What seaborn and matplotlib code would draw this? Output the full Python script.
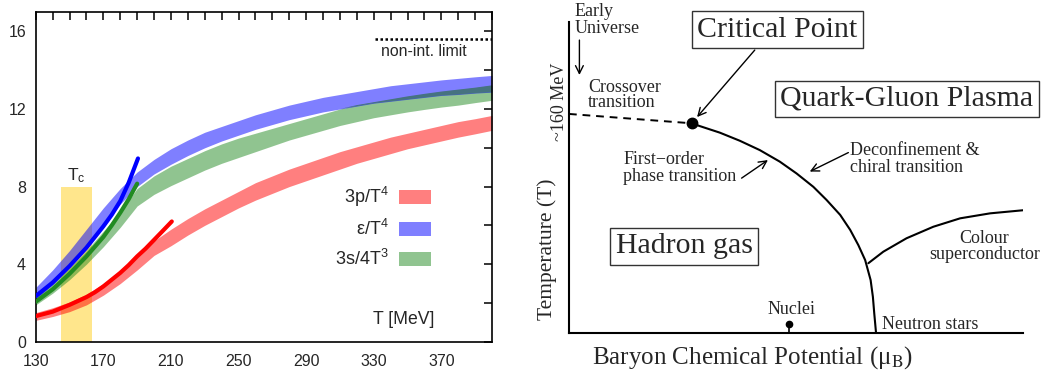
import numpy as np
import pandas as pd
import matplotlib
matplotlib.use("Agg")
import matplotlib.pyplot as plt
import seaborn as sns
from matplotlib.patches import Patch

# ---------------- data: left panel (lattice QCD EoS) ----------------
T_band = [130, 140, 150, 160, 170, 180, 190, 200, 210, 220, 230, 240, 250, 260,
          270, 280, 290, 300, 310, 320, 330, 340, 350, 360, 370, 380, 390, 400]
eps_lo = [2.2, 2.95, 3.85, 4.9, 6.0, 7.1, 8.0, 8.65, 9.15, 9.6, 10.0, 10.35, 10.65, 10.95,
          11.2, 11.45, 11.65, 11.85, 12.0, 12.15, 12.3, 12.4, 12.5, 12.6, 12.7, 12.75, 12.82, 12.87]
eps_hi = [2.8, 3.7, 4.7, 5.8, 6.9, 7.9, 8.75, 9.4, 9.95, 10.4, 10.8, 11.1, 11.4, 11.7,
          11.95, 12.2, 12.4, 12.6, 12.75, 12.9, 13.05, 13.2, 13.3, 13.4, 13.5, 13.58, 13.66, 13.73]
s_lo = [1.9, 2.5, 3.2, 4.0, 4.9, 5.9, 7.0, 7.6, 8.05, 8.45, 8.85, 9.2, 9.5, 9.8,
        10.1, 10.4, 10.65, 10.9, 11.15, 11.35, 11.55, 11.7, 11.85, 11.98, 12.1, 12.2, 12.33, 12.45]
s_hi = [2.3, 3.0, 3.8, 4.7, 5.7, 6.7, 7.9, 8.55, 9.05, 9.45, 9.85, 10.2, 10.5, 10.75,
        11.0, 11.25, 11.5, 11.75, 12.0, 12.2, 12.35, 12.5, 12.65, 12.78, 12.9, 13.0, 13.1, 13.22]
p_lo = [1.1, 1.3, 1.55, 1.9, 2.4, 3.0, 3.7, 4.45, 4.95, 5.5, 6.0, 6.45, 6.9, 7.3,
        7.65, 8.0, 8.3, 8.6, 8.9, 9.2, 9.45, 9.7, 9.95, 10.15, 10.35, 10.55, 10.72, 10.9]
p_hi = [1.5, 1.75, 2.05, 2.45, 3.0, 3.65, 4.4, 5.2, 5.8, 6.35, 6.85, 7.3, 7.75, 8.2,
        8.55, 8.9, 9.2, 9.5, 9.8, 10.05, 10.3, 10.55, 10.75, 10.95, 11.15, 11.35, 11.5, 11.67]

# hadron resonance gas curves
T_hrg_p = [130, 140, 150, 160, 165, 170, 175, 180, 185, 190, 195, 200, 205, 210.5]
hrg_p = [1.32, 1.55, 1.9, 2.3, 2.55, 2.85, 3.2, 3.55, 3.95, 4.4, 4.8, 5.25, 5.7, 6.2]
T_hrg_e = [130, 140, 150, 160, 170, 175, 180, 185, 190.5]
hrg_e = [2.35, 3.05, 3.9, 4.85, 5.95, 6.55, 7.25, 8.2, 9.45]
T_hrg_s = [130, 140, 150, 160, 170, 175, 180, 185, 190]
hrg_s = [2.06, 2.7, 3.5, 4.4, 5.4, 6.0, 6.65, 7.35, 8.15]

tc_range = [145, 163]
tc_height = 8
sb_limit = 15.62
sb_range = [331, 400]

legend_labels = ["3p/T$^{4}$", "ε/T$^{4}$", "3s/4T$^{3}$"]
x_labels = [130, 170, 210, 250, 290, 330, 370]
y_labels = [0, 4, 8, 12, 16]

# ---------------- data: right panel (phase diagram sketch) ----------------
cp = [27.0, 67.4]
cross_x = [0, 27.0]
cross_y = [70.4, 67.4]
first_x = [27.0, 28.8, 33.2, 37.6, 42.0, 46.4, 50.1, 53.8, 56.7, 59.7, 61.9, 63.7,
           65.2, 66.4, 66.9, 67.2, 67.6]
first_y = [67.4, 66.5, 64.4, 61.8, 58.8, 55.1, 51.3, 47.0, 42.8, 38.0, 33.2, 28.3,
           23.5, 17.1, 11.7, 6.4, 0.0]
csc_x = [65.9, 69.2, 74.3, 80.2, 86.1, 92.7, 100.0]
csc_y = [22.5, 26.2, 30.5, 34.2, 36.9, 38.5, 39.5]
nuclei = [48.5, 3.0]

# ---------------- style ----------------
sns.set_style("white")
plt.rcParams["font.family"] = ["Liberation Sans", "DejaVu Sans"]
plt.rcParams["mathtext.fontset"] = "custom"
plt.rcParams["mathtext.rm"] = "Liberation Sans"
plt.rcParams["mathtext.it"] = "Liberation Sans:italic"

red, blue, green = "#ff0000", "#0000ff", "#228b22"
band_alpha = 0.5

fig = plt.figure(figsize=(10.48, 3.76), dpi=100)
axL = fig.add_axes([0.0341, 0.0912, 0.4354, 0.8768])
axR = fig.add_axes([0.5429, 0.1135, 0.4335, 0.8288])

# ---------------- left panel ----------------
axL.fill_between(tc_range, 0, tc_height, color="#ffe68c", lw=0, zorder=1)
T = np.array(T_band)
axL.fill_between(T, p_lo, p_hi, color=red, alpha=band_alpha, lw=0, zorder=2)
axL.fill_between(T, s_lo, s_hi, color=green, alpha=band_alpha, lw=0, zorder=2)
axL.fill_between(T, eps_lo, eps_hi, color=blue, alpha=band_alpha, lw=0, zorder=2)
ov_lo = np.maximum(eps_lo, s_lo)
ov_hi = np.minimum(eps_hi, s_hi)
axL.fill_between(T, ov_lo, ov_hi, where=ov_hi > ov_lo, color="#467380",
                 lw=0, zorder=2.5, interpolate=True)

hrg = pd.DataFrame({
    "T": T_hrg_p + T_hrg_e + T_hrg_s,
    "val": hrg_p + hrg_e + hrg_s,
    "series": ["p"] * len(T_hrg_p) + ["e"] * len(T_hrg_e) + ["s"] * len(T_hrg_s),
})
sns.lineplot(data=hrg, x="T", y="val", hue="series",
             palette={"p": red, "e": blue, "s": green},
             lw=3, legend=False, ax=axL, zorder=3, estimator=None)

axL.hlines(sb_limit, sb_range[0], sb_range[1], colors="black",
           linestyles=(0, (1, 1)), lw=1.8, zorder=3)
axL.text(359.8, 14.97, "non-int. limit", ha="center", va="center", fontsize=11.4)
axL.text(154, 8.1, "T$_{\\mathrm{c}}$", ha="center", va="bottom", fontsize=12.5)
axL.text(347.9, 1.13, "T [MeV]", ha="center", va="center", fontsize=12.7)

handles = [Patch(facecolor=c, alpha=band_alpha, lw=0) for c in (red, blue, green)]
axL.legend(handles, legend_labels, loc="upper right", bbox_to_anchor=(0.866, 0.475),
           frameon=False, markerfirst=False, fontsize=13, handlelength=1.75,
           handleheight=0.85, labelspacing=0.55, handletextpad=0.6,
           borderaxespad=0, borderpad=0)

axL.set_xlim(130, 400)
axL.set_ylim(0, 17)
axL.set_xticks(x_labels)
axL.set_xticks(list(range(130, 401, 10)), minor=True)
axL.set_yticks(y_labels)
axL.set_yticks(list(range(0, 17, 2)), minor=True)
axL.tick_params(which="both", direction="in", top=True, right=True,
                length=6, width=1.1, color="black")
axL.tick_params(axis="x", which="major", pad=9, labelsize=11.5)
axL.tick_params(axis="y", which="major", pad=7, labelsize=11.5)
axL.set_xlabel("")
axL.set_ylabel("")
for sp in axL.spines.values():
    sp.set_linewidth(1.2)
    sp.set_color("black")

# ---------------- right panel ----------------
serif = "Liberation Serif"
axR.set_xlim(0, 100)
axR.set_ylim(0, 100)
for side in ("top", "right"):
    axR.spines[side].set_visible(False)
for side in ("left", "bottom"):
    axR.spines[side].set_linewidth(1.5)
    axR.spines[side].set_color("black")
axR.set_xticks([])
axR.set_yticks([])

axR.plot(cross_x, cross_y, color="black", lw=1.4, ls=(0, (4, 3)))
pd_first = pd.DataFrame({"x": first_x, "y": first_y})
sns.lineplot(data=pd_first, x="x", y="y", sort=False, estimator=None,
             color="black", lw=1.5, ax=axR)
pd_csc = pd.DataFrame({"x": csc_x, "y": csc_y})
sns.lineplot(data=pd_csc, x="x", y="y", sort=False, estimator=None,
             color="black", lw=1.5, ax=axR)
axR.plot([cp[0]], [cp[1]], "o", color="black", ms=7.5, zorder=5)
axR.plot([nuclei[0], nuclei[0]], [0, nuclei[1]], color="black", lw=1.2)
axR.plot([nuclei[0]], [nuclei[1]], "o", color="black", ms=4.5, zorder=5)
axR.set_xlabel("")
axR.set_ylabel("")

box = dict(boxstyle="square,pad=0.18", fc="white", ec="#333333", lw=1)
axR.text(45.9, 97.4, "Critical Point", ha="center", va="center", fontsize=21.5,
         family=serif, bbox=box, clip_on=False)
axR.text(74.4, 75.2, "Quark-Gluon Plasma", ha="center", va="center", fontsize=21.5,
         family=serif, bbox=box, clip_on=False)
axR.text(25.4, 27.9, "Hadron gas", ha="center", va="center", fontsize=21.5,
         family=serif, bbox=box)

small = dict(family=serif, fontsize=13)
axR.text(1.3, 100.5, "Early\nUniverse", ha="left", va="center", linespacing=0.95,
         clip_on=False, **small)
axR.text(4.25, 76.5, "Crossover\ntransition", ha="left", va="center", linespacing=0.9, **small)
axR.text(12.0, 53.0, "First\u2212order\nphase transition", ha="left", va="center",
         linespacing=0.95, **small)
axR.text(61.85, 55.9, "Deconfinement &\nchiral transition", ha="left", va="center",
         linespacing=0.95, **small)
axR.text(91.4, 27.8, "Colour\nsuperconductor", ha="center", va="center",
         linespacing=0.95, **small)
axR.text(48.9, 7.5, "Nuclei", ha="center", va="center", **small)
axR.text(68.8, 2.7, "Neutron stars", ha="left", va="center", **small)
axR.text(-1.98, 74.4, "~160 MeV", rotation=90, ha="center", va="center",
         clip_on=False, **small)

arr = dict(arrowstyle="->", color="black", lw=1.0, mutation_scale=14, shrinkA=0, shrinkB=0)
axR.annotate("", xy=(28.2, 69.4), xytext=(40.9, 90.9), arrowprops=arr, annotation_clip=False)
axR.annotate("", xy=(2.3, 82.9), xytext=(2.3, 94.1), arrowprops=arr, annotation_clip=False)
axR.annotate("", xy=(43.8, 55.6), xytext=(38.0, 49.8), arrowprops=arr)
axR.annotate("", xy=(53.0, 51.9), xytext=(61.5, 58.0), arrowprops=arr)

axR.text(-0.048, 0.27, "Temperature (T)", rotation=90, ha="center", va="center",
         transform=axR.transAxes, family=serif, fontsize=15.5)
axR.text(0.405, -0.079, "Baryon Chemical Potential (μ$_{\\rm B}$)", ha="center",
         va="center", transform=axR.transAxes, family=serif, fontsize=18,
         math_fontfamily="stix")

fig.savefig("out.png", dpi=100)
